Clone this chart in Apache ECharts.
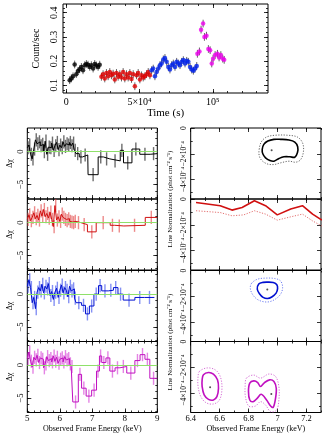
<!DOCTYPE html>
<html>
<head>
<meta charset="utf-8">
<script src="https://cdn.jsdelivr.net/npm/echarts@6/dist/echarts.min.js"></script>
<style>
  html, body { margin: 0; background: #fff; }
  #chart { width: 327px; height: 436px; }
</style>
</head>
<body>
<div id="chart"></div>
<script>
// light curve: [time (s), count/sec]
const lcBlack = [[2300,0.121],[3400,0.128],[4600,0.137],[5700,0.186],[6800,0.146],[8000,0.159],[9100,0.166],[10300,0.176],[11400,0.162],[12600,0.183],[13700,0.188],[14800,0.185],[16000,0.176],[17100,0.183],[18300,0.169],[19400,0.188],[20500,0.182],[21700,0.176],[22800,0.185]]
const lcRed = [[23970,0.135],[25110,0.146],[26250,0.128],[27400,0.151],[28540,0.137],[29680,0.155],[30820,0.141],[31960,0.148],[33100,0.124],[34250,0.151],[35390,0.135],[36530,0.146],[37670,0.132],[38810,0.155],[39950,0.128],[41090,0.146],[42240,0.132],[43380,0.151],[44520,0.126],[45660,0.146],[46800,0.096],[47940,0.141],[49080,0.151],[50230,0.124],[51370,0.141],[52510,0.132],[53650,0.137],[54790,0.146],[55930,0.155],[57080,0.141]]
const lcBlue = [[58220,0.162],[59360,0.169],[60500,0.137],[61640,0.155],[62780,0.169],[63920,0.183],[65070,0.190],[66210,0.207],[67350,0.213],[68490,0.197],[69630,0.176],[70770,0.165],[71910,0.183],[73060,0.190],[74200,0.176],[75340,0.197],[76480,0.190],[77620,0.183],[78760,0.197],[79900,0.204],[81050,0.190],[82190,0.201],[83330,0.197],[84470,0.176],[85610,0.165],[86750,0.160],[87890,0.169],[89040,0.180]]
const lcMagenta = [[89500,0.23],[90900,0.24],[92000,0.33],[93400,0.355],[94300,0.30],[95700,0.305],[97000,0.25],[98200,0.245],[99300,0.19],[100200,0.21],[101600,0.225],[103200,0.23],[104300,0.215],[105500,0.225],[106800,0.21],[107800,0.205]]
const lcErr = 0.016

const lcTimeTicks = [0, 50000, 100000]
const lcTimeLabels = ['0', '5×10⁴', '10⁵']
const lcRateTicks = [0.1, 0.2, 0.3, 0.4]

// residuals (Δχ), dense low-energy bins share the same centres
const denseE = [5.025,5.075,5.125,5.175,5.225,5.275,5.325,5.375,5.425,5.475,5.525,5.575,5.625,5.675,5.725,5.775,5.825,5.875,5.925,5.975,6.025,6.075,6.125,6.175,6.225,6.275,6.325,6.375,6.425,6.475]
const denseHalf = 0.025

const blackDenseV = [0.6,1.0,-0.4,-1.1,0.4,1.8,1.2,1.5,0.9,1.1,0.0,1.6,-0.4,0.7,0.6,1.3,0.2,0.9,1.4,0.3,1.0,0.6,1.5,0.8,1.2,1.0,1.4,0.9,1.3,0.2]
const blackE = [6.55,6.65,6.78,7.025,7.26,7.44,7.70,7.91,8.09,8.34,8.62,8.885]
const blackW = [0.05,0.05,0.08,0.155,0.08,0.10,0.16,0.05,0.13,0.12,0.16,0.115]
const blackV = [-0.3,-0.8,-0.5,-3.5,-0.8,-1.1,-1.4,0.2,-1.7,0.4,-0.4,-0.3]

const redDenseV = [0.5,1.2,0.3,0.8,1.5,0.6,1.1,0.4,1.8,1.0,2.0,0.9,1.4,0.7,1.6,0.5,-0.6,2.6,0.4,0.9,0.2,1.3,0.8,0.5,0.3,0.6,0.2,0.1,0.0,0.2]
const redE = [6.575,6.75,6.985,7.335,7.62,7.83,8.3,8.815]
const redW = [0.075,0.1,0.135,0.215,0.07,0.14,0.33,0.185]
const redV = [0.0,-0.3,-1.4,0.0,-0.4,-0.5,-0.4,0.8]

const blueDenseV = [1.2,2.2,1.0,-1.3,-0.5,-2.2,0.3,1.0,0.5,1.5,0.2,1.2,0.8,1.6,-0.2,0.4,-0.8,0.3,0.9,-0.5,0.6,1.4,0.2,1.0,0.6,-0.4,1.2,0.5,0.8,-0.6]
const blueE = [6.585,6.73,6.85,6.98,7.12,7.24,7.39,7.57,7.72,7.87,8.13,8.46,8.76]
const blueW = [0.085,0.06,0.06,0.07,0.07,0.05,0.1,0.08,0.07,0.08,0.18,0.15,0.15]
const blueV = [-1.3,-1.7,-3.0,-1.8,0.0,1.3,0.5,0.6,1.0,0.0,-0.9,-0.5,-0.5]

const magDenseV = [1.0,2.0,0.6,-0.3,1.2,0.8,1.5,0.4,1.1,0.9,-0.4,0.2,1.3,0.7,1.0,0.5,1.4,0.6,1.2,0.3,0.9,1.1,0.5,1.3,0.8,1.0,0.2,-0.2]
const magE = [6.485,6.62,6.74,6.895,7.055,7.175,7.255,7.355,7.48,7.62,7.775,7.955,8.185,8.39,8.545,8.695,8.885]
const magW = [0.085,0.05,0.07,0.085,0.075,0.045,0.035,0.065,0.06,0.08,0.075,0.105,0.125,0.08,0.075,0.075,0.115]
const magV = [-5.6,-1.4,-3.5,-4.7,-3.8,-0.9,1.4,0.4,1.1,-0.9,-0.4,-0.2,-1.2,0.7,1.6,0.9,-2.0]

const resEnergyTicks = [5, 6, 7, 8, 9]
const resChiTicks = [-5, 0]

// confidence contours: [energy keV, normalization ×1e-4]
const blackSolid = [[6.894,-1.66],[6.905,-1.27],[6.933,-1.01],[6.975,-0.88],[7.021,-0.88],[7.079,-0.93],[7.119,-1.09],[7.139,-1.45],[7.137,-1.92],[7.119,-2.26],[7.086,-2.23],[7.044,-2.23],[7.010,-2.36],[6.975,-2.57],[6.947,-2.52],[6.917,-2.31],[6.898,-2.00]]
const blackDotted = [[6.873,-1.66],[6.887,-1.09],[6.924,-0.70],[6.986,-0.56],[7.068,-0.56],[7.137,-0.70],[7.172,-1.14],[7.179,-1.79],[7.160,-2.44],[7.126,-2.65],[7.079,-2.57],[7.021,-2.70],[6.975,-2.83],[6.928,-2.78],[6.889,-2.49],[6.873,-2.13]]
const blackBest = [[6.959,-1.73]]

const redSolid = [[6.437,-0.27],[6.604,-0.52],[6.685,-0.86],[6.755,-0.66],[6.840,-0.13],[6.917,-0.52],[6.998,-1.23],[7.091,-0.78],[7.172,-0.52],[7.242,-1.17],[7.306,-1.64]]
const redDotted = [[6.437,-0.91],[6.604,-1.05],[6.685,-1.30],[6.766,-1.23],[6.840,-0.91],[6.917,-1.17],[6.998,-1.64],[7.091,-1.38],[7.172,-1.17],[7.242,-1.70],[7.306,-2.09]]

const blueSolid = [[6.870,-1.05],[6.900,-0.92],[6.930,-0.90],[6.970,-0.93],[6.995,-1.10],[7.000,-1.40],[6.990,-1.75],[6.960,-2.05],[6.930,-2.17],[6.900,-2.08],[6.875,-1.80],[6.860,-1.45]]
const blueDotted = [[6.820,-1.00],[6.860,-0.68],[6.920,-0.59],[6.980,-0.62],[7.020,-0.80],[7.035,-1.30],[7.020,-1.85],[6.980,-2.25],[6.930,-2.44],[6.870,-2.30],[6.830,-1.90],[6.812,-1.40]]
const blueBest = [[6.929,-1.47]]

const magLeftSolid = [[6.488,-2.58],[6.523,-2.40],[6.557,-2.53],[6.585,-2.97],[6.592,-3.62],[6.581,-4.27],[6.557,-4.53],[6.523,-4.48],[6.493,-4.14],[6.479,-3.49],[6.479,-2.97]]
const magLeftDotted = [[6.460,-2.32],[6.511,-2.05],[6.569,-2.19],[6.604,-2.71],[6.616,-3.62],[6.599,-4.53],[6.557,-4.84],[6.506,-4.74],[6.470,-4.27],[6.451,-3.49],[6.451,-2.71]]
const magRightSolid = [[6.808,-3.23],[6.836,-3.05],[6.863,-3.18],[6.882,-3.49],[6.910,-3.18],[6.945,-2.97],[6.975,-3.10],[6.991,-3.62],[6.986,-4.40],[6.970,-5.10],[6.952,-5.00],[6.924,-4.53],[6.887,-4.09],[6.859,-4.40],[6.831,-4.66],[6.808,-4.53],[6.799,-3.88]]
const magRightDotted = [[6.785,-2.84],[6.836,-2.60],[6.882,-2.84],[6.940,-2.52],[6.986,-2.71],[7.009,-3.49],[7.009,-4.53],[6.993,-5.31],[6.952,-5.44],[6.917,-4.92],[6.882,-4.66],[6.847,-5.00],[6.801,-5.00],[6.778,-4.27],[6.776,-3.49]]
const magBest = [[6.534,-3.54],[6.957,-4.06]]

const normTicks = [-4, -2, 0]
const energyTicks = [6.4, 6.6, 6.8, 7, 7.2]

const FONT = 'Liberation Serif'

const range = (a, b, s) => {
  const out = []
  for (let v = a; v <= b + 1e-9; v += s) out.push(Math.round(v * 1e6) / 1e6)
  return out
}

const minus = v => (v < 0 ? '−' + (-v) : String(v))

const grids = [{ left: 63, top: 4, width: 205, height: 89 }]
const rowTops = [128, 199, 270.5, 341.5]
rowTops.forEach(t => grids.push({ left: 27.3, top: t, width: 130, height: 71 }))
rowTops.forEach(t => grids.push({ left: 190.7, top: t, width: 130.3, height: 71 }))
grids.forEach(g => Object.assign(g, { show: true, borderColor: '#000', borderWidth: 1, backgroundColor: 'transparent' }))

const xAxes = []
const yAxes = []

function addAxis(list, gi, pos, spec, withLabels) {
  const common = {
    type: 'value', gridIndex: gi, position: pos, min: spec.min, max: spec.max,
    axisLine: { show: false, onZero: false }, splitLine: { show: false }
  }
  const idx = list.length
  const major = Object.assign({}, common, {
    axisTick: { show: true, inside: true, length: 4, customValues: spec.major, lineStyle: { color: '#000', width: 0.8 } },
    axisLabel: withLabels
      ? Object.assign({ show: true, customValues: spec.major, fontFamily: FONT, color: '#000' }, spec.label)
      : { show: false }
  })
  if (withLabels && spec.name) {
    Object.assign(major, {
      name: spec.name, nameLocation: 'middle', nameGap: spec.nameGap,
      nameTextStyle: { fontFamily: FONT, color: '#000', fontSize: spec.nameSize }
    })
  }
  list.push(major)
  list.push(Object.assign({}, common, {
    axisTick: { show: true, inside: true, length: 2, customValues: spec.minor, lineStyle: { color: '#000', width: 0.8 } },
    axisLabel: { show: false }
  }))
  return idx
}

function frame(gi, xs, ys, xLabels) {
  const x = addAxis(xAxes, gi, 'bottom', xs, xLabels)
  addAxis(xAxes, gi, 'top', xs, false)
  const y = addAxis(yAxes, gi, 'left', ys, true)
  addAxis(yAxes, gi, 'right', ys, false)
  return { x, y }
}

const lcX = {
  min: -2260, max: 137700, major: lcTimeTicks, minor: range(0, 130000, 10000),
  label: { fontSize: 10, margin: 4, formatter: v => lcTimeLabels[lcTimeTicks.indexOf(v)] },
  name: 'Time (s)', nameGap: 15, nameSize: 11
}
const lcY = {
  min: 0.068, max: 0.436, major: lcRateTicks, minor: range(0.08, 0.42, 0.02),
  label: { fontSize: 10, margin: 4, rotate: 90, formatter: v => v.toFixed(1) },
  name: 'Count/sec', nameGap: 14, nameSize: 10
}
const resX = {
  min: 5, max: 9, major: resEnergyTicks, minor: range(5, 9, 0.2),
  label: { fontSize: 9, margin: 2 },
  name: 'Observed Frame Energy (keV)', nameGap: 12, nameSize: 8
}
const resY = {
  min: -7.2, max: 3.6, major: resChiTicks, minor: range(-7, 3, 1),
  label: { fontSize: 8.5, margin: 2.5, rotate: 90, formatter: minus },
  name: 'Δχ', nameGap: 13, nameSize: 8
}
const normX = {
  min: 6.4, max: 7.3, major: energyTicks, minor: range(6.5, 7.3, 0.1),
  label: { fontSize: 8.5, margin: 2 },
  name: 'Observed Frame Energy (keV)', nameGap: 12, nameSize: 8
}
const normY = {
  min: -5.5, max: 0, major: normTicks, minor: [-5, -3, -1],
  label: { fontSize: 7.5, margin: 3, rotate: 90, formatter: v => (v === 0 ? '0' : '−' + (-v) + '×10⁻⁴') }
}

const lcAx = frame(0, lcX, lcY, true)
const resAx = [1, 2, 3, 4].map(gi => frame(gi, resX, resY, gi === 4))
const normAx = [5, 6, 7, 8].map(gi => frame(gi, normX, normY, gi === 8))

function errBars(ax, data, color, width) {
  return {
    type: 'custom', xAxisIndex: ax.x, yAxisIndex: ax.y, data, silent: true,
    encode: { x: 0, y: [1, 2] },
    renderItem: (params, api) => {
      const a = api.coord([api.value(0), api.value(1)])
      const b = api.coord([api.value(0), api.value(2)])
      return { type: 'line', shape: { x1: a[0], y1: a[1], x2: b[0], y2: b[1] }, style: { stroke: color, lineWidth: width } }
    }
  }
}

function lcSeries(points, color) {
  return [
    errBars(lcAx, points.map(p => [p[0], p[1] - lcErr, p[1] + lcErr]), '#555', 0.9),
    {
      type: 'scatter', xAxisIndex: lcAx.x, yAxisIndex: lcAx.y, data: points,
      symbolSize: 4.5, itemStyle: { color }, silent: true
    }
  ]
}

function residual(ax, denseV, e, w, v, color, errColor) {
  const bins = denseV.map((val, i) => [denseE[i], denseHalf, val])
    .concat(e.map((c, i) => [c, w[i], v[i]]))
  const steps = []
  bins.forEach(b => { steps.push([b[0] - b[1], b[2]]); steps.push([b[0] + b[1], b[2]]) })
  return [
    {
      type: 'line', xAxisIndex: ax.x, yAxisIndex: ax.y, data: [], silent: true,
      markLine: {
        silent: true, symbol: 'none', label: { show: false }, animation: false,
        lineStyle: { color: '#8fe06a', type: 'solid', width: 1 }, data: [{ yAxis: 0 }]
      }
    },
    errBars(ax, bins.map(b => [b[0], b[2] - 1, b[2] + 1]), errColor, 1.4),
    {
      type: 'line', xAxisIndex: ax.x, yAxisIndex: ax.y, data: steps, silent: true,
      symbol: 'none', lineStyle: { color, width: 1 }
    }
  ]
}

function contour(ax, pts, color, dotted) {
  return {
    type: 'custom', xAxisIndex: ax.x, yAxisIndex: ax.y, data: pts, silent: true,
    encode: { x: 0, y: 1 },
    renderItem: (params, api) => {
      if (params.dataIndex !== 0) return null
      return {
        type: 'polygon',
        shape: { points: pts.map(p => api.coord(p)), smooth: 0.35 },
        style: { fill: 'none', stroke: color, lineWidth: dotted ? 0.9 : 1.6, lineDash: dotted ? [1.2, 1.5] : null }
      }
    }
  }
}

function bestFit(ax, pts) {
  return {
    type: 'scatter', xAxisIndex: ax.x, yAxisIndex: ax.y, data: pts, silent: true,
    symbolSize: 2, itemStyle: { color: '#222' }
  }
}

const series = [
  ...lcSeries(lcBlack, '#000'),
  ...lcSeries(lcRed, '#e00000'),
  ...lcSeries(lcBlue, '#0022ee'),
  ...lcSeries(lcMagenta, '#ee00ee'),
  ...residual(resAx[0], blackDenseV, blackE, blackW, blackV, '#000', 'rgba(60,60,60,0.75)'),
  ...residual(resAx[1], redDenseV, redE, redW, redV, '#d01010', 'rgba(225,60,60,0.6)'),
  ...residual(resAx[2], blueDenseV, blueE, blueW, blueV, '#0010d0', 'rgba(50,70,235,0.6)'),
  ...residual(resAx[3], magDenseV, magE, magW, magV, '#c010c0', 'rgba(210,50,210,0.6)'),
  contour(normAx[0], blackDotted, '#555', true),
  contour(normAx[0], blackSolid, '#000', false),
  bestFit(normAx[0], blackBest),
  {
    type: 'line', xAxisIndex: normAx[1].x, yAxisIndex: normAx[1].y, data: redDotted, silent: true,
    symbol: 'none', lineStyle: { color: '#e06060', width: 0.9, type: [1.2, 1.5] }
  },
  {
    type: 'line', xAxisIndex: normAx[1].x, yAxisIndex: normAx[1].y, data: redSolid, silent: true,
    symbol: 'none', lineStyle: { color: '#d01010', width: 1.6 }
  },
  contour(normAx[2], blueDotted, '#6070f0', true),
  contour(normAx[2], blueSolid, '#0010d0', false),
  bestFit(normAx[2], blueBest),
  contour(normAx[3], magLeftDotted, '#d060d0', true),
  contour(normAx[3], magLeftSolid, '#c010c0', false),
  contour(normAx[3], magRightDotted, '#d060d0', true),
  contour(normAx[3], magRightSolid, '#c010c0', false),
  bestFit(normAx[3], magBest)
]

const normLabel = 'Line Normalization (phot cm⁻² s⁻¹)'

const chart = echarts.init(document.getElementById('chart'), null, { renderer: 'canvas' })
chart.setOption({
  animation: false,
  backgroundColor: '#fff',
  grid: grids,
  xAxis: xAxes,
  yAxis: yAxes,
  series,
  graphic: [199, 342].map(cy => ({
    type: 'text', x: 170, y: cy, rotation: Math.PI / 2, silent: true,
    style: { text: normLabel, fontFamily: FONT, fontSize: 7, fill: '#000', align: 'center', verticalAlign: 'middle' }
  }))
})
</script>
</body>
</html>
